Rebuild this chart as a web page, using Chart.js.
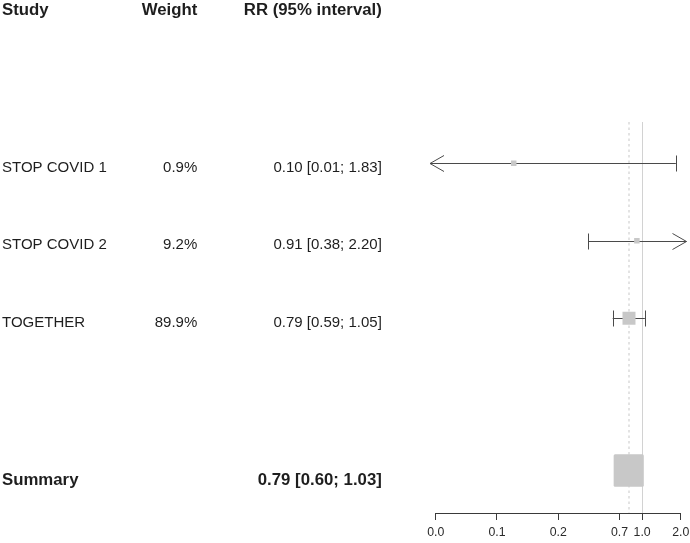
<!DOCTYPE html>
<html><head><meta charset="utf-8">
<script src="https://cdn.jsdelivr.net/npm/chart.js@4/dist/chart.umd.min.js"></script>
<style>html,body{margin:0;padding:0;background:#fff}canvas{display:block}</style>
</head><body>
<canvas id="c" width="690" height="543"></canvas>
<script>
// ---- data ----
const headers = ['Study', 'Weight', 'RR (95% interval)'];
const studies = ['STOP COVID 1', 'STOP COVID 2', 'TOGETHER'];
const weights = [0.9, 9.2, 89.9];
const rr = [0.10, 0.91, 0.79];
const lower = [0.01, 0.38, 0.59];
const upper = [1.83, 2.20, 1.05];
const summaryLabel = 'Summary';
const summaryRR = [0.79];
const summaryLower = [0.60];
const summaryUpper = [1.03];
const tickValues = [2/81, 2/27, 2/9, 2/3, 1, 2];
const nullValue = 1;

// ---- layout (rows on a hidden y scale) ----
const studyRows = [2, 3, 4];
const headerRow = 0;
const summaryRow = 5.964;
const refTopRow = 1.467;

const FONT = '"Liberation Sans", Arial, Helvetica, sans-serif';
const TEXT = '#1e1e1e';
const GREY = '#c8c8c8';
const LINE = '#4a4a4a';

function side(w) { return Math.max(5.5, 13 * Math.sqrt(w / 89.9)); }

const forestPlugin = {
  id: 'forest',
  beforeDatasetsDraw(chart) {
    const { ctx, scales: { x, y } } = chart;
    ctx.save();
    const top = y.getPixelForValue(refTopRow);
    const bottom = chart.chartArea.bottom;
    const xn = Math.round(x.getPixelForValue(nullValue)) + 0.5;
    ctx.strokeStyle = '#d2d2d2'; ctx.lineWidth = 1;
    ctx.beginPath(); ctx.moveTo(xn, top); ctx.lineTo(xn, bottom); ctx.stroke();
    const xs = x.getPixelForValue(summaryRR[0]);
    ctx.strokeStyle = '#dadada'; ctx.lineWidth = 1.5; ctx.setLineDash([2.5, 3]);
    ctx.beginPath(); ctx.moveTo(xs, top); ctx.lineTo(xs, bottom); ctx.stroke();
    ctx.setLineDash([]);
    ctx.strokeStyle = LINE; ctx.lineWidth = 1;
    const L = chart.chartArea.left, R = chart.chartArea.right;
    const minV = x.min, maxV = x.max;
    studies.forEach((s, i) => {
      const yy = Math.round(y.getPixelForValue(studyRows[i])) + 0.5;
      const lo = lower[i] < minV ? L - 5.7 : x.getPixelForValue(lower[i]);
      const hi = upper[i] > maxV ? R + 5.7 : x.getPixelForValue(upper[i]);
      ctx.beginPath(); ctx.moveTo(lo, yy); ctx.lineTo(hi, yy); ctx.stroke();
      const ends = [[lower[i] < minV, lo, 1], [upper[i] > maxV, hi, -1]];
      ends.forEach(([arrow, px, dir]) => {
        ctx.beginPath();
        if (arrow) {
          ctx.moveTo(px + dir * 14, yy - 8); ctx.lineTo(px, yy); ctx.lineTo(px + dir * 14, yy + 8);
        } else {
          const xr = Math.round(px) + 0.5;
          ctx.moveTo(xr, yy - 8); ctx.lineTo(xr, yy + 8);
        }
        ctx.stroke();
      });
    });
    ctx.restore();
  },
  afterDatasetsDraw(chart) {
    const { ctx, scales: { x, y } } = chart;
    ctx.save();
    const x0 = x.getPixelForValue(summaryLower[0]);
    const x1 = x.getPixelForValue(summaryUpper[0]);
    const yc = y.getPixelForValue(summaryRow);
    ctx.fillStyle = GREY;
    ctx.beginPath();
    if (ctx.roundRect) ctx.roundRect(x0, yc - 16.2, x1 - x0, 32.4, 1.5); else ctx.rect(x0, yc - 16.2, x1 - x0, 32.4);
    ctx.fill();
    ctx.restore();
  },
  afterDraw(chart) {
    const { ctx, scales: { y } } = chart;
    ctx.save();
    ctx.fillStyle = TEXT;
    ctx.textBaseline = 'alphabetic';
    const colX = [2, 197.3, 381.8];
    const aligns = ['left', 'right', 'right'];
    ctx.font = 'bold 16.8px ' + FONT;
    const hy = y.getPixelForValue(headerRow) + 6.7;
    headers.forEach((h, k) => { ctx.textAlign = aligns[k]; ctx.fillText(h, colX[k], hy); });
    ctx.font = '15px ' + FONT;
    studies.forEach((s, i) => {
      const by = y.getPixelForValue(studyRows[i]) + 8.6;
      const cells = [s, weights[i].toFixed(1) + '%',
        rr[i].toFixed(2) + ' [' + lower[i].toFixed(2) + '; ' + upper[i].toFixed(2) + ']'];
      cells.forEach((c, k) => { ctx.textAlign = aligns[k]; ctx.fillText(c, colX[k], by); });
    });
    ctx.font = 'bold 16.8px ' + FONT;
    const sy = y.getPixelForValue(summaryRow) + 14.5;
    ctx.textAlign = 'left'; ctx.fillText(summaryLabel, colX[0], sy);
    ctx.textAlign = 'right';
    ctx.fillText(summaryRR[0].toFixed(2) + ' [' + summaryLower[0].toFixed(2) + '; ' + summaryUpper[0].toFixed(2) + ']', colX[2], sy);
    ctx.restore();
  }
};

new Chart(document.getElementById('c'), {
  type: 'scatter',
  data: {
    datasets: [{
      data: rr.map((v, i) => ({ x: v, y: studyRows[i] })),
      pointStyle: 'rect',
      pointRadius: weights.map(w => side(w) / Math.SQRT2),
      pointHoverRadius: weights.map(w => side(w) / Math.SQRT2),
      backgroundColor: GREY,
      borderWidth: 0,
      showLine: false
    }]
  },
  options: {
    responsive: false,
    animation: false,
    devicePixelRatio: 1,
    layout: { padding: { left: 435.7, right: 9, top: 0, bottom: 0 } },
    plugins: { legend: { display: false }, tooltip: { enabled: false } },
    events: [],
    scales: {
      x: {
        type: 'logarithmic',
        min: tickValues[0],
        max: tickValues[tickValues.length - 1],
        afterBuildTicks(scale) { scale.ticks = tickValues.map(v => ({ value: v })); },
        afterFit(scale) { scale.height = 30; scale.paddingLeft = 0; scale.paddingRight = 0; scale.paddingTop = 0; scale.paddingBottom = 0; },
        grid: { display: true, drawOnChartArea: false, drawTicks: true, tickLength: 7, color: '#3a3a3a', lineWidth: 1 },
        border: { display: true, color: '#3a3a3a', width: 1 },
        ticks: {
          autoSkip: false, maxRotation: 0, padding: 5,
          color: '#2a2a2a',
          font: { family: FONT, size: 12.3 },
          callback: (v) => Number(v).toFixed(1)
        }
      },
      y: {
        type: 'linear', display: false, reverse: true,
        min: 0.0116, max: 6.512,
        afterFit(scale) { scale.paddingTop = 0; scale.paddingBottom = 0; }
      }
    }
  },
  plugins: [forestPlugin]
});
</script>
</body></html>
